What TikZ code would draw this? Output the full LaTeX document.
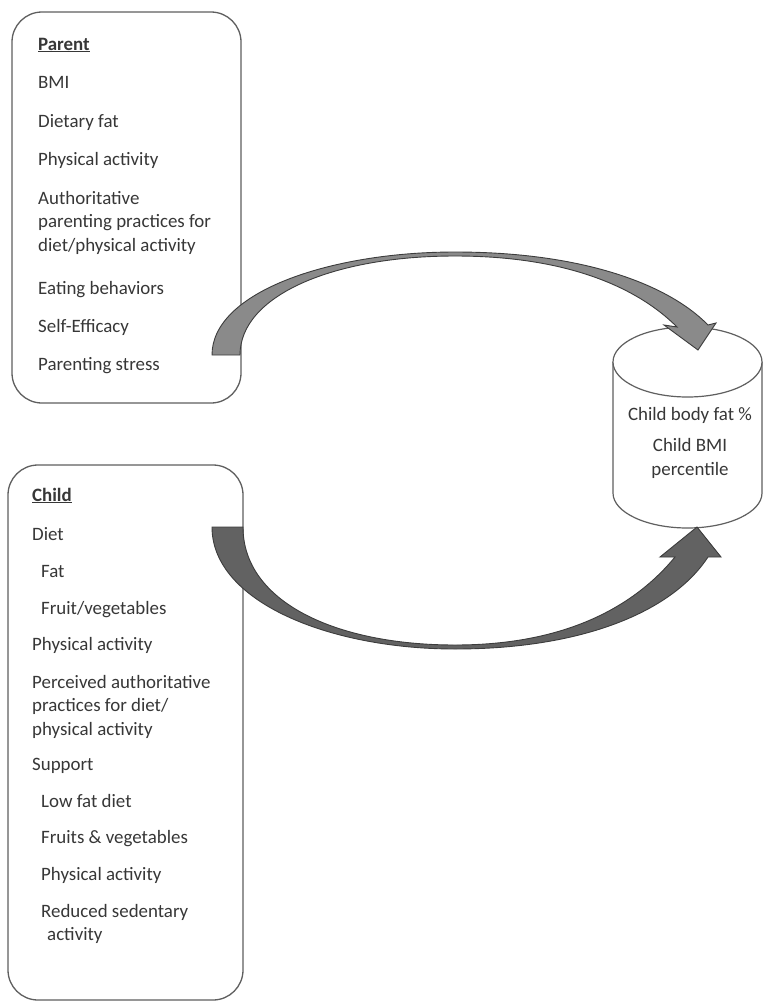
\documentclass[tikz,border=0pt]{standalone}
\usepackage{fontspec}
\setmainfont{Carlito}
\usetikzlibrary{shapes.geometric}
\definecolor{txt}{RGB}{55,55,55}
\definecolor{edge}{RGB}{95,95,95}
\definecolor{arrowA}{RGB}{138,138,138}
\definecolor{arrowB}{RGB}{98,98,98}
\definecolor{arrowedge}{RGB}{60,60,60}
\newcommand{\itemfont}{\fontsize{18.9}{23.5}\selectfont}
\tikzset{
  panel/.style={draw=edge, line width=1.3pt, rounded corners=30pt, fill=white, inner sep=0pt},
  item/.style={anchor=base west, inner sep=0pt, font=\itemfont, text=txt, align=left},
  cylitem/.style={anchor=base, inner sep=0pt, font=\itemfont, text=txt, align=center},
  cylline/.style={draw=edge, line width=1.2pt, fill=white},
  bigarrow/.style={draw=arrowedge, line width=0.9pt, line join=miter}
}
\begin{document}
\begin{tikzpicture}[x=1pt,y=-1pt]
\useasboundingbox (0,0) rectangle (763,1002);
% boxes
\node[panel, minimum width=229pt, minimum height=391pt] (parent) at (126.5,207.5) {};
\node[panel, minimum width=235pt, minimum height=535pt] (child) at (125.5,732.5) {};
% cylinder
\draw[cylline] (613,362) -- (613,493) arc[start angle=180, end angle=360, x radius=74.5, y radius=-35] -- (762,362);
\draw[cylline] (687.5,362) ellipse[x radius=74.5, y radius=35];
\coordinate (outtop) at (698,350);
\coordinate (outbot) at (697,527);
% upper curved arrow (parent -> outcome)
\coordinate (ptail) at (226,355);
\draw[bigarrow, fill=arrowA] (212,355) .. controls (212,292) and (330,252) .. (455,252)
  .. controls (582,252) and (668,284) .. (708,325) -- (716,323) -- (outtop) -- (664,325) -- (677,327)
  .. controls (640,290) and (572,256) .. (455,256)
  .. controls (332,256) and (240,296) .. (240,355) -- cycle;
% lower curved arrow (child -> outcome)
\coordinate (ctail) at (227,527);
\draw[bigarrow, fill=arrowB] (212,527) .. controls (212,602) and (330,649) .. (455,649)
  .. controls (582,649) and (672,612) .. (708,557) -- (721,557) -- (outbot) -- (660,557) -- (675,557)
  .. controls (638,602) and (572,645) .. (455,645)
  .. controls (336,645) and (243,602) .. (243,527) -- cycle;
% parent text
\node[item] (p0) at (38,50) {\textbf{\underline{Parent}}};
\node[item] (p1) at (38,88) {BMI};
\node[item] (p2) at (38,127) {Dietary fat};
\node[item] (p3) at (38,165) {Physical activity};
\node[item] (p4) at (38,251) {Authoritative\\parenting practices for\\diet/physical activity};
\node[item] (p5) at (38,294) {Eating behaviors};
\node[item] (p6) at (38,332) {Self-Efficacy};
\node[item] (p7) at (38,370) {Parenting stress};
% child text
\node[item] (c0) at (32,501) {\textbf{\underline{Child}}};
\node[item] (c1) at (32,540) {Diet};
\node[item] (c2) at (41,577) {Fat};
\node[item] (c3) at (41,614) {Fruit/vegetables};
\node[item] (c4) at (32,650) {Physical activity};
\node[item] (c5) at (32,735) {Perceived authoritative\\practices for diet/\\physical activity};
\node[item] (c6) at (32,770) {Support};
\node[item] (c7) at (41,807) {Low fat diet};
\node[item] (c8) at (41,843) {Fruits \& vegetables};
\node[item] (c9) at (41,880) {Physical activity};
\node[item] (c10) at (41,940.5) {Reduced sedentary\\\hspace*{6pt}activity};
% outcome text
\node[cylitem] (o1) at (690,420) {Child body fat \%};
\node[cylitem] (o2) at (690,475) {Child BMI\\percentile};
\end{tikzpicture}
\end{document}
